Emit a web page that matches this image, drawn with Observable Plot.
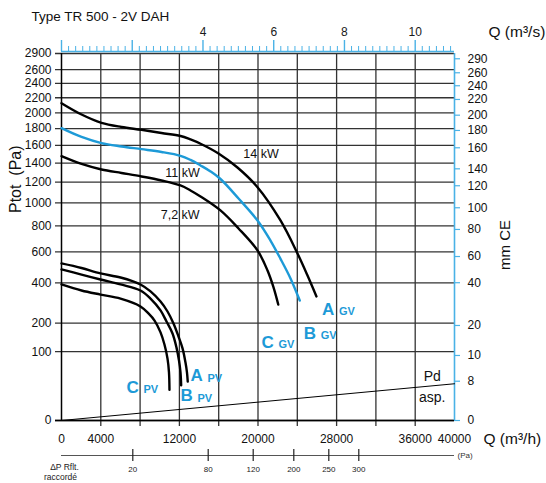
<!DOCTYPE html>
<html><head><meta charset="utf-8">
<script src="https://cdn.jsdelivr.net/npm/d3@7"></script>
<script src="https://cdn.jsdelivr.net/npm/@observablehq/plot@0.6"></script>
<style>
body{margin:0;background:#fff;}
#chart svg{display:block;font-family:"Liberation Sans",Arial,Helvetica,sans-serif;}
</style></head><body><div id="chart"></div>
<script>
const title = "Type TR 500 - 2V DAH";

// Fan curves: flow Q (m³/h) and total pressure Ptot (Pa)
const gvA_Q = [0,2040,4070,6110,8140,10180,12110,13130,14150,15980,17910,19950,22290,24020,25040,25950];
const gvA_P = [2127,1978,1872,1820,1785,1746,1710,1668,1618,1506,1352,1150,845,589,444,325];
const gvB_Q = [0,2040,4070,6110,8140,10180,12110,13130,14150,15170,16180,18020,19950,21270,22290,23310,24250];
const gvB_P = [1805,1698,1625,1586,1555,1523,1480,1434,1374,1310,1232,1041,845,684,552,426,304];
const gvC_Q = [0,2040,4070,6110,8140,10180,12110,13130,14150,16180,18020,19950,20970,21580,22060];
const gvC_P = [1476,1390,1331,1294,1258,1217,1167,1118,1060,932,779,611,475,374,284];
const pvA_Q = [0,2040,3970,6010,8040,9060,10080,10790,11400,11910,12320,12620,12770,12850];
const pvA_P = [521,491,457,432,391,352,299,251,199,149,110,71,49,32];
const pvB_Q = [0,2040,3970,6010,8040,9060,10080,10690,11300,11700,11960,12110,12180];
const pvB_P = [482,450,420,391,357,314,256,207,160,113,76,49,26];
const pvC_Q = [0,2040,3970,6010,8040,8850,9470,10080,10480,10790,10940,10990];
const pvC_P = [391,357,335,314,275,242,211,164,122,81,49,20];
// Dynamic pressure at inlet (Pd asp.)
const pd_Q = [0,40000];
const pd_P = [0,28.5];

// Axis ticks
const paTicks = [0,100,200,400,600,800,1000,1200,1400,1600,1800,2000,2200,2400,2600,2900];
const qGrid = [4000,8000,12000,16000,20000,24000,28000,32000,36000];
const qLabels = [0,4000,12000,20000,28000,36000,40000];
const mmLabels = [0,8,10,20,40,60,80,100,120,140,160,180,200,220,240,260,290];
const mmAtPa = [0,32.6,89.3,190.7,401,568,771,956,1164,1338,1571,1777,1969,2177,2367,2554,2764];
const qsMajor = [0,2,4,6,8,10];
const qsLabels = [4,6,8,10];
const qsMinorStep = 0.2, qsMax = 11;
const dpLabels = [20,80,120,200,250,300];
const dpAtQ = [7257,14931,19511,23644,27206,30259];

// Annotations
const kwText = ["14 kW","11 kW","7,2 kW"];
const kwQ = [20305,12315,12081];
const kwP = [1498,1296,890];
const fanLetter = ["A","B","C","A","B","C"];
const fanSub = ["GV","GV","GV","PV","PV","PV"];
const letterQ = [26514,24662,20356,13130,12112,6616];
const letterP = [260,161,130,41.8,12.7,23.4];
const pdText = ["Pd","asp."];
const pdTextQ = [37730,37730];
const pdTextP = [40.5,11.5];

const series = (id, Q, P) => Q.map((q, i) => ({id, q, p: P[i]}));
const blackCurves = [
  ...series("gvA", gvA_Q, gvA_P), ...series("gvC", gvC_Q, gvC_P),
  ...series("pvA", pvA_Q, pvA_P), ...series("pvB", pvB_Q, pvB_P), ...series("pvC", pvC_Q, pvC_P)
];
const blueCurve = series("gvB", gvB_Q, gvB_P);
const pdLine = series("pd", pd_Q, pd_P);
const mmTicks = mmLabels.map((m, i) => ({m, pa: mmAtPa[i]}));
const dpTicks = dpLabels.map((v, i) => ({v, q: dpAtQ[i]}));
const kw = kwText.map((t, i) => ({t, q: kwQ[i], p: kwP[i]}));
const letters = fanLetter.map((l, i) => ({l, s: fanSub[i], q: letterQ[i], p: letterP[i]}));
const pdLab = pdText.map((t, i) => ({t, q: pdTextQ[i], p: pdTextP[i]}));
const qsMinor = d3.range(qsMinorStep, qsMax + 0.001, qsMinorStep).map(v => +v.toFixed(1)).filter(v => !qsMajor.includes(v));

const blue = "#1d9ad7", axisBlue = "#4ab2e6", grid = "#333";

const chart = Plot.plot({
  width: 546, height: 483,
  marginLeft: 61, marginRight: 92, marginTop: 53, marginBottom: 63,
  style: {fontFamily: '"Liberation Sans", Arial, Helvetica, sans-serif', background: "#fff"},
  x: {domain: [0, 40000], axis: null},
  y: {type: "sqrt", domain: [0, 2845], clamp: true, axis: null},
  marks: [
    // grid
    Plot.ruleY(paTicks, {stroke: grid, strokeWidth: 1.3, insetLeft: -6}),
    Plot.ruleX(qGrid, {stroke: grid, strokeWidth: 1.3, insetBottom: -6}),
    // frame
    Plot.ruleX([0], {stroke: "#000", strokeWidth: 1.5}),
    Plot.ruleY([0], {stroke: "#000", strokeWidth: 1.5, insetLeft: -6}),
    Plot.ruleX([40000], {stroke: axisBlue, strokeWidth: 1.6}),
    Plot.ruleY(mmTicks, {y: "pa", x1: 40000, x2: 40000, insetRight: -6, stroke: axisBlue, strokeWidth: 1.2}),
    // top axis (m³/s)
    Plot.ruleY([2900], {stroke: axisBlue, strokeWidth: 1.4, dy: -2}),
    Plot.ruleX(qsMinor, {x: d => d * 3600, y1: 2900, y2: 2900, insetTop: -5, dy: -2, stroke: axisBlue, strokeWidth: 1}),
    Plot.ruleX(qsMajor, {x: d => d * 3600, y1: 2900, y2: 2900, insetTop: -11, dy: -2, stroke: axisBlue, strokeWidth: 1.4}),
    Plot.text(qsLabels, {x: d => d * 3600, y: 2900, dy: -21, text: d => String(d), fontSize: 12, fill: "#1a1a1a"}),
    Plot.text(["Q (m³/s)"], {x: 40000, y: 2900, dx: 34, dy: -21, textAnchor: "start", fontSize: 15.5, fill: "#111"}),
    // left axis labels
    Plot.text(paTicks, {x: 0, y: d => d, dx: -10, textAnchor: "end", text: d => String(d), fontSize: 12, fill: "#111"}),
    Plot.text(["Ptot\u00a0 (Pa)"], {frameAnchor: "left", dx: -46, dy: -24, rotate: -90, fontSize: 16, fill: "#111"}),
    // right axis labels
    Plot.text(mmTicks, {x: 40000, y: "pa", dx: 13, textAnchor: "start", text: d => String(d.m), fontSize: 12, fill: "#111"}),
    Plot.text(["mm CE"], {frameAnchor: "right", dx: 51, dy: -17, rotate: -90, fontSize: 15, fill: "#111"}),
    // bottom axis labels
    Plot.text(qLabels, {x: d => d, y: 0, dy: 19, text: d => String(d), fontSize: 12, fill: "#111"}),
    Plot.text(["Q (m³/h)"], {x: 40000, y: 0, dx: 29, dy: 19, textAnchor: "start", fontSize: 15.5, fill: "#111"}),
    // ΔP raccordé scale
    Plot.ruleY([0], {dy: 35, stroke: "#555", strokeWidth: 1.2}),
    Plot.ruleX(dpTicks, {x: "q", y1: 0, y2: 0, insetTop: -6, insetBottom: -6, dy: 35, stroke: "#222", strokeWidth: 1.2}),
    Plot.text(dpTicks, {x: "q", y: 0, dy: 49, text: d => String(d.v), fontSize: 8, fill: "#222"}),
    Plot.text(["(Pa)"], {x: 40000, y: 0, dx: 3, dy: 35, textAnchor: "start", fontSize: 8, fill: "#333"}),
    Plot.text(["ΔP Rflt."], {x: 0, y: 0, dx: 3, dy: 47, fontSize: 8.5, fill: "#222"}),
    Plot.text(["raccordé"], {x: 0, y: 0, dx: -1, dy: 57, fontSize: 8.5, fill: "#222"}),
    // curves
    Plot.line(pdLine, {x: "q", y: "p", stroke: "#000", strokeWidth: 1}),
    Plot.line(blackCurves, {x: "q", y: "p", z: "id", stroke: "#000", strokeWidth: 2.4, curve: "catmull-rom"}),
    Plot.line(blueCurve, {x: "q", y: "p", stroke: blue, strokeWidth: 2.4, curve: "catmull-rom"}),
    // annotations
    Plot.text(kw, {x: "q", y: "p", text: "t", fontSize: 12.5, fill: "#111"}),
    Plot.text(letters, {x: "q", y: "p", text: "l", textAnchor: "start", fontSize: 17, fontWeight: "bold", fill: blue}),
    Plot.text(letters, {x: "q", y: "p", text: "s", textAnchor: "start", dx: 17, dy: 2, fontSize: 11, fontWeight: "bold", fill: blue}),
    Plot.text(pdLab, {x: "q", y: "p", text: "t", fontSize: 14, fill: "#111"}),
    // title
    Plot.text([title], {frameAnchor: "top-left", dx: -30, dy: -37, textAnchor: "start", lineAnchor: "middle", fontSize: 13.5, fill: "#111"})
  ]
});
document.getElementById("chart").append(chart);
</script>
</body></html>
